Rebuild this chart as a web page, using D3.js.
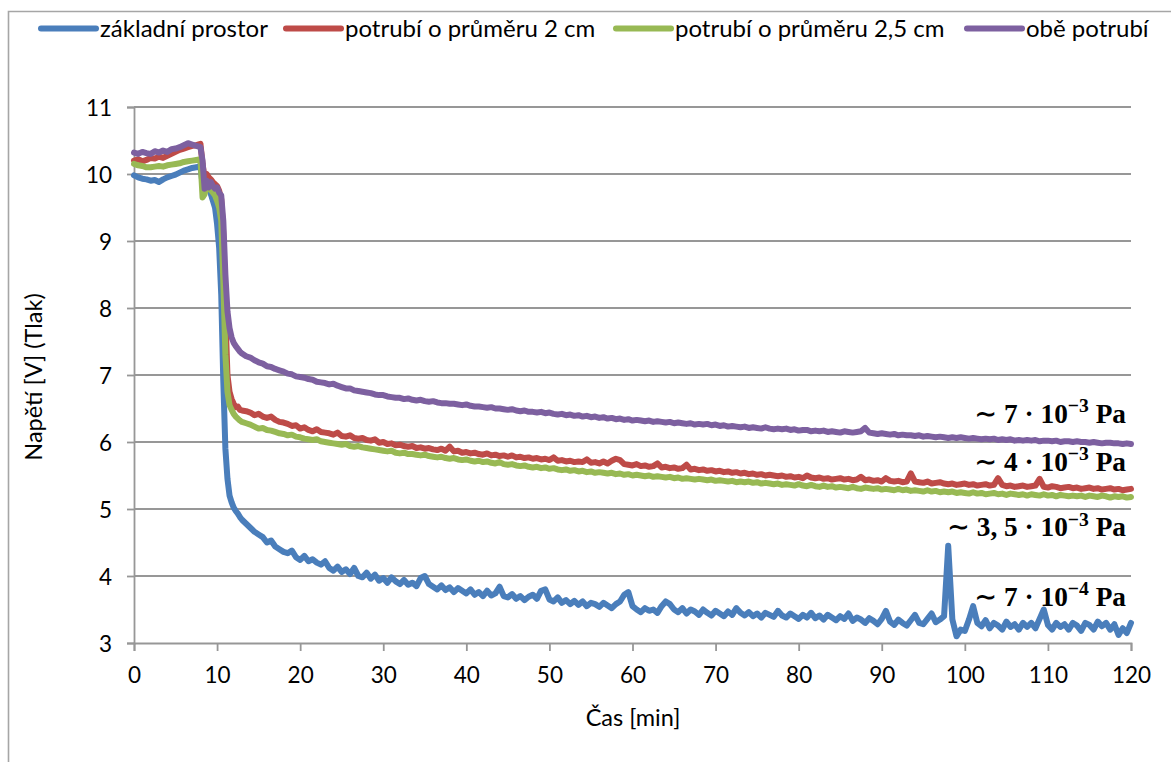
<!DOCTYPE html>
<html>
<head>
<meta charset="utf-8">
<script src="https://cdn.jsdelivr.net/npm/d3@7"></script>
<style>
  html, body { margin: 0; padding: 0; background: #fff; }
  svg { display: block; }
</style>
</head>
<body>
<svg id="chart" width="1171" height="762"></svg>
<script>
// ---------- DATA ----------
// time grid (minutes): 0..8 step 0.5, 8.25..13 step 0.25, 13.5..120 step 0.5
const minutes = [].concat(d3.range(0, 8.01, 0.5), d3.range(8.25, 13.01, 0.25), d3.range(13.5, 120.01, 0.5));

const seriesNames = ["základní prostor", "potrubí o průměru 2 cm", "potrubí o průměru 2,5 cm", "obě potrubí"];
const seriesColors = ["#4A7EBB", "#BE4B48", "#98B954", "#7D60A0"];

const zakladni = [
  9.98, 9.95, 9.93, 9.92, 9.90, 9.91, 9.88, 9.92, 9.95, 9.97, 9.99, 10.02, 10.05, 10.07, 10.09, 10.10, 10.12,
  9.85, 9.8, 9.78, 9.82, 9.7, 9.6, 9.5, 9.25, 8.9, 8.2, 6.9, 5.9, 5.45, 5.2, 5.1, 5.02, 4.97, 4.93, 4.88, 4.84,
  4.78, 4.72, 4.66, 4.62, 4.58, 4.5, 4.53, 4.44, 4.4, 4.36,
  4.34, 4.38, 4.28, 4.24, 4.3, 4.22, 4.25, 4.2, 4.17, 4.22,
  4.12, 4.08, 4.14, 4.06, 4.1, 4.03, 4.12, 4.0, 3.98, 4.05,
  3.96, 4.02, 3.93, 3.97, 3.9, 3.98, 3.92, 3.88, 3.94, 3.87,
  3.9, 3.85, 3.97, 4.0, 3.88, 3.84, 3.8, 3.86, 3.79, 3.83,
  3.76, 3.82, 3.78, 3.74, 3.8, 3.72, 3.76, 3.7, 3.78, 3.71,
  3.74, 3.84, 3.7, 3.68, 3.73, 3.66, 3.7, 3.64, 3.69, 3.72,
  3.66, 3.78, 3.8, 3.65, 3.62, 3.68, 3.6, 3.64, 3.58, 3.63,
  3.57, 3.62, 3.55, 3.6, 3.58, 3.54, 3.6, 3.56, 3.52, 3.58,
  3.62, 3.72, 3.76, 3.55, 3.5, 3.46, 3.52, 3.48, 3.5, 3.45,
  3.55, 3.62, 3.58, 3.5, 3.46, 3.52, 3.44, 3.5, 3.47, 3.42,
  3.5, 3.45, 3.41, 3.48, 3.44, 3.4, 3.47, 3.42, 3.52, 3.45,
  3.41, 3.46, 3.4, 3.44, 3.38, 3.45, 3.42, 3.39, 3.48, 3.41,
  3.38, 3.44, 3.4, 3.36, 3.42, 3.38, 3.45, 3.37, 3.41, 3.35,
  3.42, 3.38, 3.34, 3.4, 3.36, 3.44, 3.33, 3.38, 3.35, 3.3,
  3.37, 3.33, 3.28, 3.36, 3.48, 3.32, 3.27, 3.35, 3.3, 3.26,
  3.34, 3.42, 3.3, 3.28, 3.36, 3.44, 3.31, 3.35, 3.4, 4.45,
  3.35, 3.1, 3.2, 3.18, 3.35, 3.55, 3.3, 3.25, 3.34, 3.22,
  3.3, 3.26, 3.2, 3.32, 3.24, 3.28, 3.2, 3.3, 3.24, 3.3,
  3.22, 3.36, 3.5, 3.27, 3.2, 3.3, 3.24, 3.28, 3.2, 3.3,
  3.26, 3.18, 3.3, 3.27, 3.2, 3.32, 3.25, 3.3, 3.2, 3.28,
  3.12, 3.22, 3.15, 3.3
];

const potrubi2 = [
  10.2, 10.22, 10.19, 10.21, 10.24, 10.23, 10.26, 10.24, 10.27, 10.3, 10.33, 10.36, 10.38, 10.4, 10.42, 10.43, 10.45,
  10.15, 9.95, 10.0, 9.95, 9.92, 9.88, 9.85, 9.82, 9.75, 9.62, 9.1, 7.9, 7.0, 6.75, 6.64, 6.57, 6.52, 6.53, 6.48, 6.47,
  6.46, 6.44, 6.4, 6.42, 6.38, 6.36, 6.38, 6.33, 6.3, 6.29,
  6.27, 6.24, 6.25, 6.2, 6.22, 6.18, 6.16, 6.19, 6.15, 6.14,
  6.13, 6.11, 6.14, 6.09, 6.08, 6.1, 6.06, 6.05, 6.06, 6.03,
  6.02, 6.04, 5.99, 6.0, 5.97, 5.98, 5.95, 5.96, 5.94, 5.93,
  5.94, 5.91, 5.92, 5.9, 5.91, 5.89, 5.88, 5.9, 5.87, 5.93,
  5.86, 5.87, 5.84, 5.85, 5.83, 5.84, 5.82, 5.81, 5.83, 5.8,
  5.81, 5.79, 5.8, 5.78, 5.8, 5.77, 5.78, 5.76, 5.77, 5.75,
  5.76, 5.74, 5.75, 5.73, 5.77, 5.72, 5.73, 5.71, 5.72, 5.7,
  5.71, 5.7, 5.74, 5.69, 5.7, 5.68, 5.71, 5.68, 5.72, 5.75,
  5.73, 5.67, 5.66, 5.65, 5.67, 5.64, 5.65, 5.63, 5.64, 5.68,
  5.62, 5.63, 5.61, 5.62, 5.6, 5.61, 5.66, 5.59, 5.6, 5.58,
  5.59, 5.57, 5.58, 5.56, 5.57, 5.55, 5.56, 5.54, 5.55, 5.53,
  5.54, 5.52, 5.53, 5.51, 5.52, 5.5, 5.51, 5.5, 5.49, 5.5,
  5.48, 5.49, 5.47, 5.48, 5.46, 5.5, 5.47, 5.46, 5.47, 5.45,
  5.46, 5.44, 5.45, 5.46, 5.44, 5.45, 5.43, 5.44, 5.48, 5.43,
  5.44, 5.42, 5.43, 5.41, 5.46, 5.42, 5.41, 5.42, 5.4, 5.41,
  5.53, 5.41, 5.4, 5.39, 5.41, 5.38, 5.39, 5.4, 5.38, 5.37,
  5.38, 5.36, 5.37, 5.38, 5.36, 5.37, 5.35, 5.36, 5.37, 5.35,
  5.36, 5.46, 5.36, 5.34, 5.35, 5.33, 5.34, 5.35, 5.33, 5.34,
  5.35, 5.45, 5.33, 5.32, 5.34, 5.33, 5.31, 5.32, 5.33, 5.31,
  5.32, 5.3, 5.31, 5.32, 5.3, 5.31, 5.29, 5.3, 5.31, 5.29,
  5.3, 5.28, 5.29, 5.3
];

const potrubi25 = [
  10.15, 10.13, 10.12, 10.1, 10.1, 10.11, 10.12, 10.11, 10.13, 10.14, 10.15, 10.16, 10.18, 10.19, 10.2, 10.21, 10.22,
  9.65, 9.7, 9.82, 9.8, 9.76, 9.72, 9.68, 9.6, 9.5, 9.3, 8.4, 7.3, 6.75, 6.55, 6.48, 6.42, 6.38, 6.35, 6.32, 6.3,
  6.28, 6.26, 6.23, 6.2, 6.21, 6.18, 6.17, 6.15, 6.13, 6.12,
  6.1, 6.11, 6.08, 6.07, 6.05, 6.04, 6.03, 6.04, 6.01, 6.0,
  5.99, 5.98, 5.97, 5.96, 5.97, 5.94, 5.93, 5.94, 5.92, 5.91,
  5.9, 5.89, 5.88, 5.87, 5.86, 5.87, 5.84, 5.83, 5.84, 5.82,
  5.82, 5.81, 5.8, 5.81, 5.79, 5.78, 5.77, 5.78, 5.76, 5.75,
  5.76, 5.74, 5.73, 5.74, 5.72, 5.71, 5.72, 5.7, 5.71, 5.69,
  5.68, 5.7, 5.67, 5.66, 5.67, 5.65, 5.64, 5.65, 5.63, 5.62,
  5.63, 5.61, 5.62, 5.6, 5.61, 5.59, 5.58, 5.59, 5.57, 5.58,
  5.56, 5.57, 5.55, 5.56, 5.54, 5.55, 5.54, 5.53, 5.54, 5.52,
  5.53, 5.51, 5.52, 5.5, 5.51, 5.5, 5.49, 5.5, 5.48, 5.49,
  5.48, 5.47, 5.48, 5.46, 5.47, 5.45, 5.46, 5.45, 5.44, 5.45,
  5.44, 5.43, 5.44, 5.42, 5.43, 5.42, 5.41, 5.42, 5.4, 5.41,
  5.4, 5.41, 5.39, 5.4, 5.38, 5.39, 5.38, 5.37, 5.38, 5.36,
  5.37, 5.36, 5.35, 5.37, 5.35, 5.34, 5.36, 5.34, 5.33, 5.35,
  5.33, 5.34, 5.32, 5.33, 5.32, 5.31, 5.33, 5.31, 5.3, 5.32,
  5.31, 5.3, 5.31, 5.29, 5.3, 5.29, 5.28, 5.3, 5.28, 5.29,
  5.27, 5.28, 5.27, 5.26, 5.28, 5.26, 5.27, 5.25, 5.26, 5.25,
  5.26, 5.24, 5.25, 5.24, 5.23, 5.25, 5.23, 5.24, 5.22, 5.23,
  5.24, 5.22, 5.23, 5.21, 5.23, 5.22, 5.21, 5.22, 5.2, 5.22,
  5.21, 5.2, 5.22, 5.2, 5.21, 5.19, 5.21, 5.2, 5.19, 5.2,
  5.19, 5.2, 5.18, 5.2, 5.19, 5.18, 5.2, 5.19, 5.17, 5.19,
  5.18, 5.19, 5.17, 5.18
];

const obe = [
  10.32, 10.3, 10.33, 10.31, 10.3, 10.34, 10.32, 10.35, 10.33, 10.37, 10.38, 10.4, 10.43, 10.46, 10.44, 10.42, 10.4,
  10.2, 9.78, 9.9, 9.8, 9.88, 9.82, 9.78, 9.8, 9.72, 9.68, 9.3, 8.5, 7.95, 7.7, 7.56, 7.48, 7.43, 7.39, 7.35, 7.32,
  7.28, 7.26, 7.22, 7.19, 7.17, 7.13, 7.12, 7.09, 7.07, 7.05,
  7.02, 7.01, 6.98, 6.97, 6.96, 6.94, 6.93, 6.9, 6.89, 6.88,
  6.86, 6.87, 6.84, 6.82, 6.8, 6.8, 6.77, 6.76, 6.75, 6.74,
  6.73, 6.71, 6.7, 6.7, 6.68, 6.67, 6.66, 6.66, 6.64, 6.65,
  6.63, 6.62, 6.63, 6.61, 6.6, 6.61, 6.59, 6.58, 6.58, 6.57,
  6.57, 6.56, 6.55, 6.56, 6.54, 6.53, 6.53, 6.52, 6.51, 6.52,
  6.5, 6.5, 6.49, 6.48, 6.49, 6.47, 6.46, 6.47, 6.45, 6.45,
  6.44, 6.45, 6.43, 6.44, 6.42, 6.41, 6.42, 6.4, 6.41, 6.39,
  6.4, 6.38, 6.39, 6.37, 6.38, 6.36, 6.37, 6.35, 6.36, 6.34,
  6.35, 6.33, 6.34, 6.32, 6.33, 6.32, 6.31, 6.32, 6.3, 6.31,
  6.3, 6.29, 6.3, 6.28, 6.29, 6.28, 6.27, 6.28, 6.26, 6.27,
  6.26, 6.27, 6.25, 6.26, 6.24, 6.25, 6.23, 6.24, 6.23, 6.22,
  6.23, 6.21, 6.22, 6.21, 6.2, 6.22, 6.2, 6.19, 6.2, 6.19,
  6.2, 6.18, 6.19, 6.17, 6.18, 6.18, 6.16, 6.17, 6.16, 6.17,
  6.15, 6.16, 6.15, 6.14, 6.16, 6.15, 6.14, 6.15, 6.16, 6.21,
  6.14, 6.13, 6.12, 6.13, 6.12, 6.11, 6.12, 6.1, 6.11, 6.1,
  6.1, 6.09, 6.1, 6.08, 6.09, 6.08, 6.07, 6.08, 6.07, 6.06,
  6.07, 6.06, 6.07, 6.06, 6.05, 6.06, 6.05, 6.04, 6.05, 6.04,
  6.05, 6.03, 6.04, 6.03, 6.04, 6.02, 6.03, 6.02, 6.03, 6.02,
  6.03, 6.01, 6.02, 6.02, 6.01, 6.02, 6.0, 6.01, 6.01, 6.0,
  6.01, 6.0, 6.0, 5.99, 6.0, 5.99, 5.98, 5.99, 5.99, 5.98,
  5.98, 5.97, 5.98, 5.97
];

const xTicks = [0, 10, 20, 30, 40, 50, 60, 70, 80, 90, 100, 110, 120];
const yTicks = [3, 4, 5, 6, 7, 8, 9, 10, 11];
const xTitle = "Čas [min]";
const yTitle = "Napětí [V] (Tlak)";
// annotations: [prefix, exponent, suffix, voltage level of the text baseline]
const annotations = [
  ["∼ 7 · 10", "−3", " Pa", 6.29],
  ["∼ 4 · 10", "−3", " Pa", 5.57],
  ["∼ 3, 5 · 10", "−3", " Pa", 4.59],
  ["∼ 7 · 10", "−4", " Pa", 3.55]
];

// ---------- DRAW ----------
const svg = d3.select("#chart");
const grey = "#979797";
const font = "Lato, 'Open Sans', sans-serif";

const x = d3.scaleLinear().domain([0, 120]).range([134, 1131]);
const y = d3.scaleLinear().domain([3, 11]).range([643, 107]);

// outer chart border
svg.append("path")
  .attr("d", "M8.5,762 L8.5,11.5 L1171,11.5")
  .attr("fill", "none").attr("stroke", "#a6a6a6").attr("stroke-width", 1.6);

// gridlines
svg.append("g").selectAll("line").data(yTicks.filter(d => d > 3)).join("line")
  .attr("x1", x(0)).attr("x2", x(120))
  .attr("y1", d => y(d)).attr("y2", d => y(d))
  .attr("stroke", grey).attr("stroke-width", 1.8);

// axes
const xAxis = d3.axisBottom(x).tickValues(xTicks).tickSize(8).tickPadding(15).tickFormat(d3.format("d"));
const yAxis = d3.axisLeft(y).tickValues(yTicks).tickSize(7).tickPadding(15).tickFormat(d3.format("d"));

const gx = svg.append("g").attr("transform", `translate(0,${y(3)})`).call(xAxis);
const gy = svg.append("g").attr("transform", `translate(${x(0)},0)`).call(yAxis);
[gx, gy].forEach(g => {
  g.select(".domain").attr("stroke", grey).attr("stroke-width", 1.8);
  g.selectAll(".tick line").attr("stroke", grey).attr("stroke-width", 1.8);
  g.selectAll(".tick text").attr("fill", "#000").style("font-family", font).style("font-size", "22.5px");
});
gx.selectAll(".tick text").attr("dy", "0.74em");
gy.selectAll(".tick text").attr("dy", "0.36em");

// series
const allSeries = [zakladni, potrubi2, potrubi25, obe];
const line = d3.line().x((d, i) => x(minutes[i])).y(d => y(d)).curve(d3.curveLinear);
allSeries.forEach((vals, k) => {
  const n = Math.min(vals.length, minutes.length);
  svg.append("path")
    .datum(vals.slice(0, n))
    .attr("d", line)
    .attr("fill", "none")
    .attr("stroke", seriesColors[k])
    .attr("stroke-width", 6)
    .attr("stroke-linejoin", "round")
    .attr("stroke-linecap", "round");
});

// legend
const legendLineX = [41, 286, 616, 967];
const legendTextW = [174, 257, 278, 128];
const legendY = 28.5;
const lg = svg.append("g");
const ltexts = [];
seriesNames.forEach((name, k) => {
  lg.append("line")
    .attr("x1", legendLineX[k]).attr("x2", legendLineX[k] + 55)
    .attr("y1", legendY).attr("y2", legendY)
    .attr("stroke", seriesColors[k]).attr("stroke-width", 6).attr("stroke-linecap", "round");
  const t = lg.append("text")
    .attr("x", legendLineX[k] + 59).attr("y", legendY).attr("dy", "0.36em")
    .style("font-family", font).style("font-size", "21px").attr("fill", "#000")
    .text(name);
  ltexts.push(t);
});
// fit legend font size to original text widths
{
  let ratio = 0;
  ltexts.forEach((t, k) => { ratio += legendTextW[k] / t.node().getComputedTextLength(); });
  ratio /= ltexts.length;
  const fs = Math.max(17, Math.min(24, 21 * ratio));
  ltexts.forEach(t => t.style("font-size", fs + "px"));
}

// axis titles
svg.append("text")
  .attr("x", 633).attr("y", 718).attr("dy", "0.36em").attr("text-anchor", "middle")
  .style("font-family", font).style("font-size", "23.5px").text(xTitle);
svg.append("text")
  .attr("transform", "translate(34,377) rotate(-90)")
  .attr("text-anchor", "middle").attr("dy", "0.36em")
  .style("font-family", font).style("font-size", "23.5px").text(yTitle);

// annotations (bold serif with superscript)
const annFont = "'Liberation Serif', 'DejaVu Serif', serif";
const annTargets = [152, 154, 177, 151];
const annNodes = [];
annotations.forEach((a, k) => {
  const t = svg.append("text")
    .attr("x", 1126).attr("y", y(a[3]))
    .attr("text-anchor", "end")
    .style("font-family", annFont).style("font-weight", "bold").style("font-size", "25px")
    .attr("fill", "#000");
  t.append("tspan").text(a[0]);
  t.append("tspan").attr("dy", -10).style("font-size", "18px").text(a[1]);
  t.append("tspan").attr("dy", 10).text(a[2]);
  annNodes.push(t);
});
{
  let ratio = 0;
  annNodes.forEach((t, k) => { ratio += annTargets[k] / t.node().getComputedTextLength(); });
  ratio /= annNodes.length;
  const fs = Math.max(20, Math.min(30, 25 * ratio));
  annNodes.forEach(t => {
    t.style("font-size", fs + "px");
    const tsp = t.selectAll("tspan").nodes();
    d3.select(tsp[1]).style("font-size", (fs * 0.72) + "px").attr("dy", -fs * 0.4);
    d3.select(tsp[2]).attr("dy", fs * 0.4);
  });
}
</script>
</body>
</html>
